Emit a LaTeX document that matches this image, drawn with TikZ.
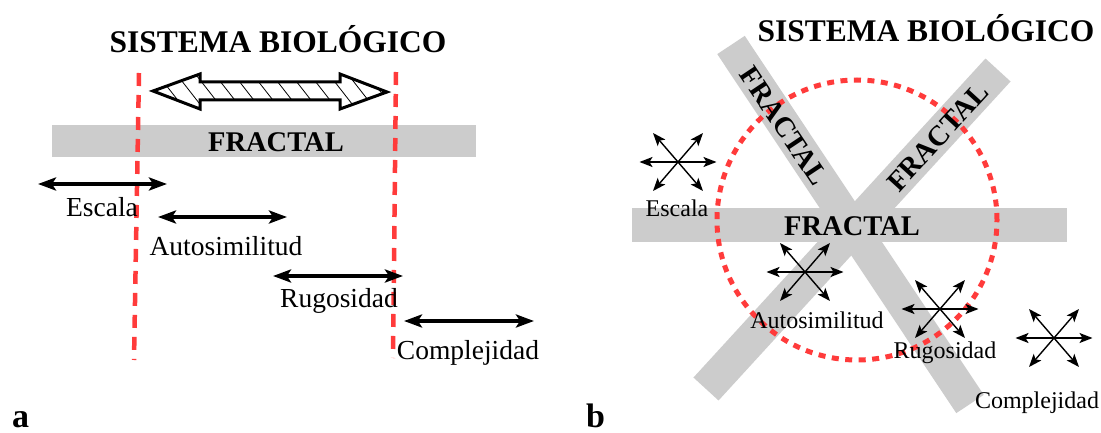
\documentclass[tikz,border=0pt]{standalone}
\usepackage{fontspec}
\setmainfont{Liberation Serif}
\usetikzlibrary{arrows.meta,patterns.meta,calc}
\definecolor{bandgray}{RGB}{204,204,204}
\definecolor{redline}{RGB}{255,59,59}
\tikzset{
  title/.style={font=\fontsize{31.5}{36}\selectfont\bfseries, anchor=base},
  fractxt/.style={font=\fontsize{28.5}{32}\selectfont\bfseries},
  lablarge/.style={font=\fontsize{27.5}{32}\selectfont, anchor=base},
  labsmall/.style={font=\fontsize{24}{28}\selectfont, anchor=base},
  boldarrow/.style={line width=4pt, {Stealth[length=18pt,width=13pt,inset=4pt]}-{Stealth[length=18pt,width=13pt,inset=4pt]}},
  thinarrow/.style={line width=1.4pt, {Stealth[length=13pt,width=10pt,inset=3pt]}-{Stealth[length=13pt,width=10pt,inset=3pt]}},
  reddash/.style={draw=redline, line width=4.5pt, dash pattern=on 13pt off 9pt},
  reddot/.style={draw=redline, line width=5pt, dash pattern=on 7pt off 6.5pt},
  panellabel/.style={font=\fontsize{34}{38}\selectfont\bfseries, anchor=base west, inner sep=1pt}
}
\begin{document}
\begin{tikzpicture}[x=1pt,y=-1pt]
\useasboundingbox (0,0) rectangle (1101,433);
\fill[white] (0,0) rectangle (1101,433);

% ---------------- panel a ----------------
\node[title] (ta) at (278,53) {SISTEMA BIOLÓGICO};

% hatched double arrow
\path[pattern={Lines[angle=-52,distance=15pt,line width=0.8pt]}]
  (153,91) -- (200,74) -- (200,82) -- (340,82) -- (340,74) -- (387,92)
  -- (340,109) -- (340,100) -- (200,100) -- (200,109) -- cycle;
\draw[line width=3pt, line join=miter]
  (153,91) -- (200,74) -- (200,82) -- (340,82) -- (340,74) -- (387,92)
  -- (340,109) -- (340,100) -- (200,100) -- (200,109) -- cycle;

% gray band
\fill[bandgray] (52,125) rectangle (476,157);
\node[fractxt, anchor=base] (fa) at (276,152) {FRACTAL};

% red dashed lines
\coordinate (r1t) at (139,73); \coordinate (r1b) at (134,360);
\coordinate (r2t) at (396,72); \coordinate (r2b) at (393,358);
\draw[reddash] (r1t) -- (r1b);
\draw[reddash] (r2t) -- (r2b);

% arrows and labels
\coordinate (e1) at (38,184);  \coordinate (e2) at (167,184);
\coordinate (s1) at (158,217); \coordinate (s2) at (287,217);
\coordinate (g1) at (273,276); \coordinate (g2) at (403,276);
\coordinate (c1) at (404,321); \coordinate (c2) at (534,321);
\draw[boldarrow] (e1) -- (e2);
\draw[boldarrow] (s1) -- (s2);
\draw[boldarrow] (g1) -- (g2);
\draw[boldarrow] (c1) -- (c2);
\node[lablarge] (le) at (102,216) {Escala};
\node[lablarge] (ls) at (226,255) {Autosimilitud};
\node[lablarge] (lg) at (339,307) {Rugosidad};
\node[lablarge] (lc) at (468,359) {Complejidad};

\node[panellabel] (pa) at (11,427) {a};

% ---------------- panel b ----------------
\coordinate (d1a) at (731,45);  \coordinate (d1b) at (970,404);
\coordinate (d2a) at (706,389); \coordinate (d2b) at (998,70);
\draw[bandgray, line width=33pt] (d1a) -- (d1b);
\draw[bandgray, line width=34pt] (d2a) -- (d2b);
\fill[bandgray] (632,208) rectangle (1067,242);

\node[title] (tb) at (926,42) {SISTEMA BIOLÓGICO};

\coordinate (cc) at (857,220);
\draw[reddot] (cc) circle[radius=140pt];

\node[fractxt, anchor=base] (fb) at (852,235) {FRACTAL};
\node[fractxt, rotate=-56.3] (fd1) at (784,126) {FRACTAL};
\node[fractxt, rotate=47.5] (fd2) at (938,137) {FRACTAL};

% star arrows
\foreach \nm/\cx/\cy in {se/678/162, ss/805/272, sg/940/309, sc/1054/338}{
  \coordinate (\nm) at (\cx,\cy);
  \draw[thinarrow] ($(\nm)+(-38.5,0)$) -- ($(\nm)+(38.5,0)$);
  \draw[thinarrow] ($(\nm)+(-25,-29)$) -- ($(\nm)+(25,29)$);
  \draw[thinarrow] ($(\nm)+(-25,29)$) -- ($(\nm)+(25,-29)$);
}
\node[labsmall] (be) at (677,216) {Escala};
\node[labsmall] (bs) at (817,328) {Autosimilitud};
\node[labsmall] (bg) at (945,358) {Rugosidad};
\node[labsmall] (bc) at (1037,408) {Complejidad};

\node[panellabel] (pb) at (585,427) {b};
\end{tikzpicture}
\end{document}
